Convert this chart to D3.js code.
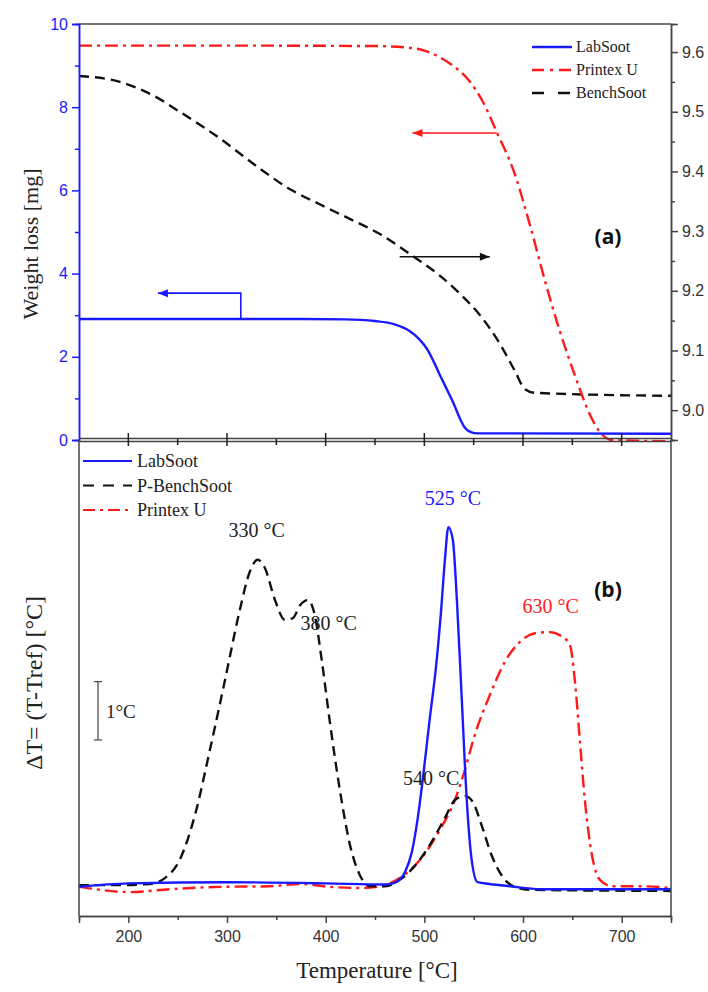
<!DOCTYPE html>
<html><head><meta charset="utf-8">
<script src="https://cdn.jsdelivr.net/npm/d3@7"></script>
<style>body{margin:0;background:#fff}svg{display:block}</style>
</head><body>
<svg id="c" width="708" height="992"></svg>
<script>
// ---------- DATA ----------
// Top panel (TGA): temperature [°C] and weight
const labTgaT   = [150, 350, 420, 450, 470, 485, 495, 503, 510, 517, 524, 530, 536, 541, 546, 553, 751];
const labTgaW   = [2.91, 2.91, 2.90, 2.86, 2.78, 2.62, 2.42, 2.18, 1.86, 1.50, 1.16, 0.86, 0.52, 0.30, 0.20, 0.16, 0.15];
const printexTgaT = [150, 300, 450, 480, 500, 515, 530, 546, 560, 573.5, 592, 607, 622, 637, 652.5, 668, 678, 690, 751];
const printexTgaW = [9.48, 9.48, 9.47, 9.44, 9.36, 9.21, 8.98, 8.62, 8.10, 7.40, 6.37, 5.17, 3.85, 2.64, 1.56, 0.60, 0.19, 0.0, -0.03];
const benchTgaT = [150, 191.5, 222, 252, 293, 333, 364, 394, 425, 455, 485, 516, 536, 556, 577, 592, 602, 612, 751];
const benchTgaW = [9.560, 9.550, 9.530, 9.500, 9.455, 9.405, 9.370, 9.345, 9.320, 9.295, 9.262, 9.225, 9.195, 9.160, 9.110, 9.065, 9.035, 9.029, 9.024];

// Bottom panel (DTA): temperature [°C] and ΔT [°C]
const labDtaT = [150, 200, 300, 400, 460, 470, 480.3, 487.4, 493.5, 499.5, 505.6, 511.7, 516.8, 520.8, 524.4, 528.9, 533, 538, 543, 548, 554, 566, 587, 617, 751];
const labDtaV = [0.50, 0.56, 0.58, 0.56, 0.54, 0.57, 0.75, 1.10, 1.70, 2.50, 3.40, 4.25, 5.20, 6.10, 6.67, 6.45, 5.42, 3.70, 1.99, 0.96, 0.58, 0.55, 0.51, 0.46, 0.46];
const benchDtaT = [150, 191.5, 222, 237, 252, 267.5, 282.7, 298, 313, 323, 331, 338.4, 348.6, 358.7, 366.8, 374, 382, 389, 396, 404, 414.4, 424.6, 434.7, 444.8, 460, 475, 490.4, 505.6, 520.8, 531, 541, 549, 558, 568, 578.6, 591.7, 607, 751];
const benchDtaV = [0.53, 0.53, 0.55, 0.65, 0.96, 1.73, 2.85, 4.05, 5.25, 5.90, 6.11, 5.97, 5.42, 5.08, 5.11, 5.33, 5.42, 5.16, 4.39, 3.36, 2.16, 1.22, 0.70, 0.51, 0.51, 0.62, 0.86, 1.22, 1.68, 1.99, 2.06, 1.96, 1.56, 1.05, 0.69, 0.50, 0.45, 0.43];
const printexDtaT = [150, 171, 201.7, 242, 293, 343.5, 374, 404, 434.7, 455, 475, 495.5, 515.8, 531, 541, 551, 566.4, 581.6, 596.8, 612, 627, 639, 647.5, 652.5, 657.6, 662.7, 669.8, 678, 690, 718, 751];
const printexDtaV = [0.50, 0.45, 0.41, 0.46, 0.50, 0.51, 0.55, 0.50, 0.48, 0.51, 0.65, 0.96, 1.48, 1.99, 2.50, 3.10, 3.79, 4.36, 4.70, 4.85, 4.87, 4.80, 4.65, 4.05, 3.02, 1.99, 1.05, 0.62, 0.51, 0.51, 0.48];

// Axis ticks
const xTicks = [200, 300, 400, 500, 600, 700];
const leftTicks = [0, 2, 4, 6, 8, 10];
const rightTicks = [9.0, 9.1, 9.2, 9.3, 9.4, 9.5, 9.6];

// Annotations
const peakLabels = [
  {text: "525 °C", T: 529, v: 7.05, color: "#1a1aff"},
  {text: "330 °C", T: 330, v: 6.50, color: "#222"},
  {text: "380 °C", T: 403, v: 4.90, color: "#222"},
  {text: "540 °C", T: 507, v: 2.25, color: "#222"},
  {text: "630 °C", T: 628, v: 5.20, color: "#ff1a1a"}
];

// ---------- LAYOUT ----------
const svg = d3.select("#c");
const L = 79, R = 671, T1 = 24, B1 = 440, T2 = 440, B2 = 916;
const BLUE = "#1a1aff", RED = "#ff1a1a", BLACK = "#111", GREY = "#444";

const x = d3.scaleLinear().domain([150, 750]).range([L, R]);
const yL = d3.scaleLinear().domain([0, 10]).range([B1, T1]);
const yR = d3.scaleLinear().domain([8.95, 9.647]).range([B1, T1]);
const y2 = d3.scaleLinear().domain([0, 8.165]).range([B2, T2]);

const tickFont = "'Liberation Sans', Arial, sans-serif";
const serif = "'Liberation Serif', 'Times New Roman', serif";

function series(Ts, Vs){ return Ts.map((t,i)=>[t, Vs[i]]); }
function drawLine(g, data, ys, color, dash){
  g.append("path").datum(data)
    .attr("fill","none").attr("stroke",color).attr("stroke-width",2.4)
    .attr("stroke-dasharray", dash || null)
    .attr("d", d3.line().x(d=>x(d[0])).y(d=>ys(d[1])).curve(d3.curveMonotoneX));
}
const DASH = "10,6", DASHDOT = "13,5,3,5";

// clip paths
const defs = svg.append("defs");
defs.append("clipPath").attr("id","clipTop").append("rect").attr("x",L).attr("y",T1).attr("width",R-L).attr("height",B1-T1+2);
defs.append("clipPath").attr("id","clipBot").append("rect").attr("x",L).attr("y",T2).attr("width",R-L).attr("height",B2-T2);

// ---------- TOP PANEL ----------
const gTop = svg.append("g");
const topPlot = gTop.append("g").attr("clip-path","url(#clipTop)");
drawLine(topPlot, series(benchTgaT, benchTgaW), yR, BLACK, DASH);
drawLine(topPlot, series(printexTgaT, printexTgaW), yL, RED, DASHDOT);
drawLine(topPlot, series(labTgaT, labTgaW), yL, BLUE, null);

// frame top
gTop.append("line").attr("x1",L).attr("x2",R).attr("y1",T1).attr("y2",T1).attr("stroke",GREY).attr("stroke-width",1.5);

// left axis (blue)
const axL = gTop.append("g").attr("transform",`translate(${L},0)`)
  .call(d3.axisLeft(yL).tickValues(leftTicks).tickSize(7).tickPadding(4).tickFormat(d3.format("d")));
axL.append("g").call(d3.axisLeft(yL).tickValues([1,3,5,7,9]).tickSize(4).tickFormat(""));
axL.selectAll("path,line").attr("stroke",BLUE).attr("stroke-width",1.5);
axL.selectAll("text").attr("fill",BLUE).style("font-family",tickFont).style("font-size","16px");

// right axis
const axR = gTop.append("g").attr("transform",`translate(${R},0)`)
  .call(d3.axisRight(yR).tickValues(rightTicks).tickSize(7).tickPadding(4).tickFormat(d3.format(".1f")));
axR.append("g").call(d3.axisRight(yR).tickValues([8.95,9.05,9.15,9.25,9.35,9.45,9.55]).tickSize(4).tickFormat(""));
axR.selectAll("path,line").attr("stroke",GREY).attr("stroke-width",1.5);
axR.selectAll("text").attr("fill","#333").style("font-family",tickFont).style("font-size","16px");

// top panel bottom axis (double line with crossing ticks)
gTop.append("line").attr("x1",L).attr("x2",R).attr("y1",B1-1.5).attr("y2",B1-1.5).attr("stroke",GREY).attr("stroke-width",1.5);
gTop.append("line").attr("x1",L).attr("x2",R).attr("y1",B1+1.5).attr("y2",B1+1.5).attr("stroke",GREY).attr("stroke-width",1.5);
gTop.selectAll(".mt").data(xTicks).enter().append("line")
  .attr("x1",d=>x(d)).attr("x2",d=>x(d)).attr("y1",B1-7).attr("y2",B1+6).attr("stroke","#222").attr("stroke-width",1.5);
gTop.selectAll(".nt").data([250,350,450,550,650]).enter().append("line")
  .attr("x1",d=>x(d)).attr("x2",d=>x(d)).attr("y1",B1-1).attr("y2",B1+5).attr("stroke","#222").attr("stroke-width",1.5);

// y title top
gTop.append("text").attr("transform",`translate(38,${(T1+B1)/2+12}) rotate(-90)`).attr("text-anchor","middle")
  .style("font-family",serif).style("font-size","22px").attr("fill","#222").text("Weight loss [mg]");

// arrows
function arrow(g, pts, color){
  g.append("path").attr("d", d3.line()(pts)).attr("fill","none").attr("stroke",color).attr("stroke-width",1.6);
  const n = pts.length, p1 = pts[n-2], p2 = pts[n-1];
  const a = Math.atan2(p2[1]-p1[1], p2[0]-p1[0]);
  const len = 10, w = 4;
  const bx = p2[0]-len*Math.cos(a), by = p2[1]-len*Math.sin(a);
  g.append("path").attr("d",`M${p2[0]},${p2[1]} L${bx - w*Math.sin(a)},${by + w*Math.cos(a)} L${bx + w*Math.sin(a)},${by - w*Math.cos(a)} Z`).attr("fill",color);
}
arrow(gTop, [[x(573.5), yL(7.38)], [x(488), yL(7.38)]], RED);
arrow(gTop, [[x(475), yR(9.257)], [x(566.4), yR(9.257)]], BLACK);
arrow(gTop, [[x(314), yL(2.91)], [x(314), yL(3.53)], [x(230), yL(3.53)]], BLUE);

// legend top
const legTop = [{n:"LabSoot",c:BLUE,d:null},{n:"Printex U",c:RED,d:"12,6,3,6"},{n:"BenchSoot",c:BLACK,d:"12,14"}];
legTop.forEach((e,i)=>{
  const yy = 47 + i*23;
  gTop.append("line").attr("x1",532).attr("x2",572).attr("y1",yy).attr("y2",yy).attr("stroke",e.c).attr("stroke-width",2.4).attr("stroke-dasharray",e.d);
  gTop.append("text").attr("x",576).attr("y",yy+5).style("font-family",serif).style("font-size","16px").attr("fill","#222").text(e.n);
});
gTop.append("text").attr("x",608).attr("y",244).attr("text-anchor","middle").style("font-family","'Open Sans', sans-serif")
  .style("font-weight","bold").style("font-size","21px").attr("fill","#111").text("(a)");

// ---------- BOTTOM PANEL ----------
const gBot = svg.append("g");
const botPlot = gBot.append("g").attr("clip-path","url(#clipBot)");
drawLine(botPlot, series(printexDtaT, printexDtaV), y2, RED, DASHDOT);
drawLine(botPlot, series(benchDtaT, benchDtaV), y2, BLACK, DASH);
drawLine(botPlot, series(labDtaT, labDtaV), y2, BLUE, null);

// frame
gBot.append("line").attr("x1",L).attr("x2",L).attr("y1",T2).attr("y2",B2).attr("stroke",GREY).attr("stroke-width",1.5);
gBot.append("line").attr("x1",R).attr("x2",R).attr("y1",T2).attr("y2",B2).attr("stroke",GREY).attr("stroke-width",1.5);
const axB = gBot.append("g").attr("transform",`translate(0,${B2})`)
  .call(d3.axisBottom(x).tickValues(xTicks).tickSize(7).tickPadding(8).tickFormat(d3.format("d")));
axB.append("g").call(d3.axisBottom(x).tickValues([250,350,450,550,650]).tickSize(4).tickFormat(""));
axB.selectAll("path,line").attr("stroke",GREY).attr("stroke-width",1.5);
axB.selectAll("text").attr("fill","#333").style("font-family",tickFont).style("font-size","16px");

gBot.append("text").attr("x",(L+R)/2+2).attr("y",978).attr("text-anchor","middle")
  .style("font-family",serif).style("font-size","23px").attr("fill","#222").text("Temperature [°C]");
gBot.append("text").attr("transform",`translate(42,${(T2+B2)/2+5}) rotate(-90)`).attr("text-anchor","middle")
  .style("font-family",serif).style("font-size","24px").attr("fill","#222").text("ΔT= (T-Tref) [°C]");

// scale bar
const sbx = 98;
gBot.append("line").attr("x1",sbx).attr("x2",sbx).attr("y1",y2(3.02)).attr("y2",y2(4.02)).attr("stroke",GREY).attr("stroke-width",1.2);
[3.02,4.02].forEach(v=>gBot.append("line").attr("x1",sbx-4).attr("x2",sbx+4).attr("y1",y2(v)).attr("y2",y2(v)).attr("stroke",GREY).attr("stroke-width",1.2));
gBot.append("text").attr("x",106).attr("y",(y2(3.02)+y2(4.02))/2+7).style("font-family",serif).style("font-size","19px").attr("fill","#222").text("1°C");

// legend bottom
const legBot = [{n:"LabSoot",c:BLUE,d:null},{n:"P-BenchSoot",c:BLACK,d:"11,9"},{n:"Printex U",c:RED,d:"12,5,3,5"}];
legBot.forEach((e,i)=>{
  const yy = 461 + i*24.5;
  gBot.append("line").attr("x1",83).attr("x2",132).attr("y1",yy).attr("y2",yy).attr("stroke",e.c).attr("stroke-width",2.2).attr("stroke-dasharray",e.d);
  gBot.append("text").attr("x",137).attr("y",yy+6).style("font-family",serif).style("font-size","18px").attr("fill","#222").text(e.n);
});

// peak labels
gBot.selectAll(".pl").data(peakLabels).enter().append("text")
  .attr("x",d=>x(d.T)).attr("y",d=>y2(d.v)).attr("text-anchor","middle")
  .style("font-family",serif).style("font-size","20px").attr("fill",d=>d.color).text(d=>d.text);

gBot.append("text").attr("x",608).attr("y",597).attr("text-anchor","middle").style("font-family","'Open Sans', sans-serif")
  .style("font-weight","bold").style("font-size","21px").attr("fill","#111").text("(b)");
</script>
</body></html>
